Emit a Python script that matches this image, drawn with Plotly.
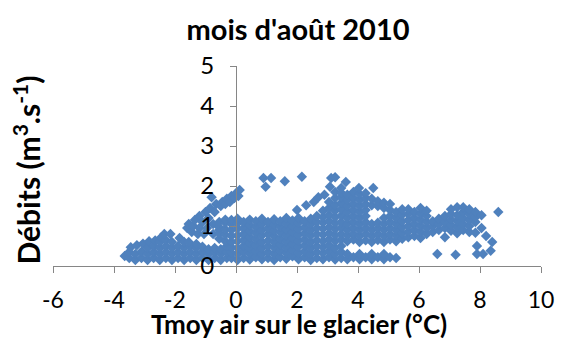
import plotly.graph_objects as go

# ---- data: (Tmoy air °C, débit m3/s) ----
bande_froide = [
    (-3.65, 0.25),
    (-3.5, 0.2), (-3.5, 0.35), (-3.45, 0.47),
    (-3.3, 0.15), (-3.3, 0.3), (-3.25, 0.52),
    (-3.1, 0.2), (-3.1, 0.36), (-3.05, 0.56),
    (-2.9, 0.15), (-2.9, 0.3), (-2.9, 0.45), (-2.85, 0.62),
    (-2.7, 0.2), (-2.7, 0.35), (-2.7, 0.5), (-2.65, 0.64),
    (-2.5, 0.15), (-2.5, 0.3), (-2.5, 0.45), (-2.5, 0.6), (-2.45, 0.72),
    (-2.3, 0.2), (-2.3, 0.35), (-2.3, 0.5), (-2.3, 0.65), (-2.35, 0.8),
    (-2.1, 0.15), (-2.1, 0.3), (-2.1, 0.45), (-2.1, 0.6), (-2.15, 0.8),
    (-1.9, 0.2), (-1.9, 0.35), (-1.9, 0.5), (-1.85, 0.7),
    (-1.7, 0.15), (-1.7, 0.3), (-1.7, 0.45), (-1.7, 0.6),
    (-1.5, 0.2), (-1.5, 0.35), (-1.5, 0.5), (-1.55, 0.6),
    (-1.3, 0.15), (-1.3, 0.3), (-1.3, 0.45), (-1.3, 0.55),
    (-1.1, 0.2), (-1.1, 0.35), (-1.1, 0.48),
    (-0.9, 0.15), (-0.9, 0.3), (-0.9, 0.42),
    (-0.7, 0.2), (-0.7, 0.35), (-0.7, 0.45),
    (-0.5, 0.15), (-0.5, 0.3), (-0.5, 0.42),
    (-0.3, 0.2), (-0.3, 0.35), (-0.3, 0.5),
]

branche = [
    (-1.6, 0.95), (-1.55, 1.05), (-1.45, 0.85), (-1.4, 1.0), (-1.35, 1.15),
    (-1.25, 0.8), (-1.2, 0.95), (-1.2, 1.25), (-1.1, 1.1), (-1.05, 0.8),
    (-1.0, 1.35), (-0.95, 0.95), (-0.9, 1.2), (-0.85, 1.45), (-0.8, 1.72),
    (-0.75, 0.8), (-0.75, 1.05), (-0.7, 1.35), (-0.65, 1.55), (-0.55, 0.9),
    (-0.5, 1.5), (-0.45, 1.6), (-0.35, 1.55), (-0.3, 1.68), (-0.2, 1.6),
    (-0.15, 1.75), (-0.05, 1.7), (0.0, 1.82), (0.08, 1.75), (0.12, 1.9),
]

corps = [
    (-0.55, 0.68), (-0.55, 0.82), (-0.55, 0.97), (-0.55, 1.1),
    (-0.35, 0.62), (-0.35, 0.78), (-0.35, 0.92), (-0.35, 1.08), (-0.35, 1.16),
    (-0.15, 0.2), (-0.15, 0.33), (-0.15, 0.47), (-0.15, 0.6), (-0.15, 0.75), (-0.15, 0.9), (-0.15, 1.05), (-0.15, 1.15),
    (0.05, 0.15), (0.05, 0.3), (0.05, 0.45), (0.05, 0.62), (0.05, 0.77), (0.05, 0.93), (0.05, 1.07), (0.05, 1.18),
    (0.25, 0.2), (0.25, 0.36), (0.25, 0.5), (0.25, 0.65), (0.25, 0.8), (0.25, 0.95), (0.25, 1.1),
    (0.45, 0.16), (0.45, 0.3), (0.45, 0.44), (0.45, 0.58), (0.45, 0.72), (0.45, 0.87), (0.45, 1.02), (0.45, 1.16),
    (0.65, 0.22), (0.65, 0.37), (0.65, 0.52), (0.65, 0.67), (0.65, 0.82), (0.65, 0.97), (0.65, 1.12),
    (0.85, 0.17), (0.85, 0.3), (0.85, 0.45), (0.85, 0.6), (0.85, 0.76), (0.85, 0.9), (0.85, 1.05), (0.85, 1.18),
    (1.05, 0.2), (1.05, 0.35), (1.05, 0.5), (1.05, 0.64), (1.05, 0.8), (1.05, 0.95), (1.05, 1.1),
    (1.25, 0.15), (1.25, 0.3), (1.25, 0.46), (1.25, 0.6), (1.25, 0.74), (1.25, 0.88), (1.25, 1.03), (1.25, 1.17),
    (1.45, 0.22), (1.45, 0.38), (1.45, 0.53), (1.45, 0.68), (1.45, 0.84), (1.45, 0.98), (1.45, 1.12),
    (1.65, 0.18), (1.65, 0.32), (1.65, 0.47), (1.65, 0.62), (1.65, 0.77), (1.65, 0.92), (1.65, 1.07), (1.65, 1.2),
    (1.85, 0.24), (1.85, 0.4), (1.85, 0.55), (1.85, 0.7), (1.85, 0.85), (1.85, 1.0), (1.85, 1.14),
    (2.05, 0.17), (2.05, 0.32), (2.05, 0.48), (2.05, 0.63), (2.05, 0.78), (2.05, 0.93), (2.05, 1.08), (2.05, 1.2),
    (2.25, 0.22), (2.25, 0.37), (2.25, 0.52), (2.25, 0.67), (2.25, 0.82), (2.25, 0.97), (2.25, 1.12),
    (2.45, 0.15), (2.45, 0.3), (2.45, 0.45), (2.45, 0.6), (2.45, 0.76), (2.45, 0.9), (2.45, 1.05), (2.45, 1.18),
    (2.65, 0.2), (2.65, 0.35), (2.65, 0.5), (2.65, 0.65), (2.65, 0.8), (2.65, 0.95), (2.65, 1.1), (2.65, 1.25),
    (2.85, 0.17), (2.85, 0.32), (2.85, 0.47), (2.85, 0.62), (2.85, 0.78), (2.85, 0.93), (2.85, 1.08), (2.85, 1.22), (2.85, 1.38),
    (3.05, 0.22), (3.05, 0.37), (3.05, 0.52), (3.05, 0.67), (3.05, 0.82), (3.05, 0.97), (3.05, 1.12), (3.05, 1.28), (3.05, 1.45), (3.05, 1.6),
    (3.25, 0.16), (3.25, 0.3), (3.25, 0.45), (3.25, 0.62), (3.25, 0.77), (3.25, 0.92), (3.25, 1.07), (3.25, 1.22), (3.25, 1.38), (3.25, 1.52), (3.25, 1.7), (3.25, 1.85),
    (3.45, 0.2), (3.45, 0.35), (3.45, 0.5), (3.45, 0.66), (3.45, 0.8), (3.45, 0.96), (3.45, 1.1), (3.45, 1.26), (3.45, 1.42), (3.45, 1.58), (3.45, 1.72), (3.45, 1.83),
    (3.65, 0.17), (3.65, 0.3), (3.65, 0.62), (3.65, 0.76), (3.65, 0.9), (3.65, 1.05), (3.65, 1.2), (3.65, 1.35), (3.65, 1.5), (3.65, 1.65), (3.65, 1.78),
    (3.85, 0.22), (3.85, 0.66), (3.85, 0.8), (3.85, 0.95), (3.85, 1.1), (3.85, 1.25), (3.85, 1.4), (3.85, 1.55), (3.85, 1.7), (3.85, 1.85),
    (4.05, 0.17), (4.05, 0.3), (4.05, 0.6), (4.05, 0.75), (4.05, 0.9), (4.05, 1.05), (4.05, 1.2), (4.05, 1.35), (4.05, 1.5), (4.05, 1.65), (4.05, 1.8),
    (4.25, 0.22), (4.25, 0.64), (4.25, 0.8), (4.25, 0.95), (4.25, 1.1), (4.25, 1.25), (4.25, 1.4), (4.25, 1.55), (4.25, 1.7), (4.25, 1.82),
    (4.45, 0.17), (4.45, 0.3), (4.45, 0.6), (4.45, 0.75), (4.45, 0.9), (4.45, 1.05), (4.45, 1.52), (4.45, 1.68),
    (4.65, 0.22), (4.65, 0.65), (4.65, 0.8), (4.65, 0.95), (4.65, 1.08), (4.65, 1.5), (4.65, 1.62),
    (4.85, 0.17), (4.85, 0.3), (4.85, 0.6), (4.85, 0.75), (4.85, 0.9), (4.85, 1.05), (4.85, 1.2), (4.85, 1.45), (4.85, 1.58),
    (5.05, 0.22), (5.05, 0.66), (5.05, 0.8), (5.05, 0.95), (5.05, 1.1), (5.05, 1.25), (5.05, 1.4), (5.05, 1.55),
    (5.25, 0.2), (5.25, 0.62), (5.25, 0.76), (5.25, 0.9), (5.25, 1.05), (5.25, 1.2), (5.25, 1.35),
    (5.45, 0.68), (5.45, 0.82), (5.45, 0.97), (5.45, 1.12), (5.45, 1.28), (5.45, 1.42),
    (5.65, 0.72), (5.65, 0.86), (5.65, 1.0), (5.65, 1.15), (5.65, 1.3), (5.65, 1.42),
    (5.85, 0.75), (5.85, 0.9), (5.85, 1.05), (5.85, 1.2), (5.85, 1.35),
    (6.05, 0.7), (6.05, 0.85), (6.05, 1.0), (6.05, 1.15), (6.05, 1.3), (6.05, 1.45),
    (6.25, 0.8), (6.25, 0.95), (6.25, 1.1), (6.25, 1.25), (6.25, 1.38),
    (6.45, 0.85), (6.45, 1.0), (6.45, 1.12),
    (6.65, 0.9), (6.65, 1.05), (6.65, 1.18),
    (6.85, 0.72), (6.85, 0.95), (6.85, 1.1), (6.85, 1.25),
    (7.05, 0.88), (7.05, 1.02), (7.05, 1.16), (7.05, 1.3), (7.05, 1.42),
    (7.25, 0.82), (7.25, 0.97), (7.25, 1.12), (7.25, 1.27), (7.25, 1.47),
    (7.45, 0.9), (7.45, 1.05), (7.45, 1.2), (7.45, 1.35), (7.45, 1.47),
    (7.65, 0.85), (7.65, 1.0), (7.65, 1.15), (7.65, 1.3), (7.65, 1.42),
    (7.85, 0.83), (7.85, 1.1), (7.85, 1.22), (7.85, 1.35),
    (8.05, 0.95), (8.05, 1.27),
]

nuage_haut = [(0.9, 2.2), (1.15, 2.2), (0.97, 1.98), (1.6, 2.12), (2.16, 2.23)]

bras = [
    (2.0, 1.4), (2.3, 1.52), (2.55, 1.6), (2.7, 1.72), (2.9, 1.78), (3.08, 1.98),
    (3.12, 2.2), (3.25, 2.22), (3.6, 2.1), (3.45, 1.95), (4.03, 1.95), (4.5, 1.95),
]

points_isoles = [
    (6.6, 0.3), (7.2, 0.28), (7.9, 0.3), (8.1, 0.3), (7.9, 0.5),
    (8.4, 0.6), (8.35, 0.38), (8.2, 0.75), (8.6, 1.35),
]

graduations_t = [-6, -4, -2, 0, 2, 4, 6, 8, 10]
etiquettes_t = ["-6", "-4", "-2", "0", "2", "4", "6", "8", "10"]
graduations_q = [0, 1, 2, 3, 4, 5]

titre = "mois d'août 2010"
titre_x = "Tmoy air sur le glacier (°C)"
titre_y = "Débits (m<sup>3</sup>.s<sup>-1</sup>)"

regions = [bande_froide, branche, corps, nuage_haut, bras, points_isoles]
tmoy = [p[0] for r in regions for p in r]
debit = [p[1] for r in regions for p in r]

BLUE = "#4F81BD"
GRAY = "#868686"
FONT = "Lato"

L, R, T, B = 53, 15, 66, 74
PW = 566 - L - R
PH = 340 - T - B
AXIS_Y = T + PH  # px of the x axis

fig = go.Figure(
    go.Scatter(
        x=tmoy, y=debit, mode="markers",
        marker=dict(symbol="diamond", size=8, color=BLUE, line=dict(width=0)),
        hoverinfo="skip",
    )
)

fig.update_layout(
    width=566, height=340,
    margin=dict(l=L, r=R, t=T, b=B),
    paper_bgcolor="white", plot_bgcolor="white",
    showlegend=False,
    font=dict(family=FONT, color="black", size=24),
    title=dict(text="<b>" + titre + "</b>", x=298 / 566, xanchor="center",
               y=1 - 30 / 340, yanchor="middle", yref="container",
               font=dict(family=FONT, size=29, color="black")),
    xaxis=dict(
        range=[-6, 10], tickmode="array", tickvals=graduations_t, ticktext=etiquettes_t,
        ticks="outside", ticklen=6, tickcolor=GRAY, tickwidth=1,
        showline=True, linecolor=GRAY, linewidth=1,
        showgrid=False, zeroline=False,
        tickfont=dict(family=FONT, size=23, color="black"),
        ticklabelstandoff=7,
    ),
    yaxis=dict(
        range=[0, 5], tickmode="array", tickvals=graduations_q,
        anchor="free", position=6 / 16,
        ticks="outside", ticklen=6, tickcolor=GRAY, tickwidth=1,
        showline=True, linecolor=GRAY, linewidth=1,
        showgrid=False, zeroline=False,
        tickfont=dict(family=FONT, size=24, color="black"),
        ticklabelstandoff=11,
    ),
    annotations=[
        dict(text="<b>" + titre_x + "</b>", xref="paper", yref="paper",
             x=(304 - L) / PW, y=(AXIS_Y - 324) / PH, xanchor="center", yanchor="middle",
             showarrow=False, font=dict(family=FONT, size=26, color="black")),
        dict(text="<b>" + titre_y + "</b>", xref="paper", yref="paper",
             x=(26 - L) / PW, y=(AXIS_Y - 170) / PH, xanchor="center", yanchor="middle",
             textangle=-90, showarrow=False, font=dict(family=FONT, size=30, color="black")),
    ],
)

# remove the default 8 px page margin so the figure fills the window exactly
fig.write_html(
    "out.html",
    config={"displayModeBar": False},
    post_script="document.body.style.margin='0';document.body.style.overflow='hidden';",
)
